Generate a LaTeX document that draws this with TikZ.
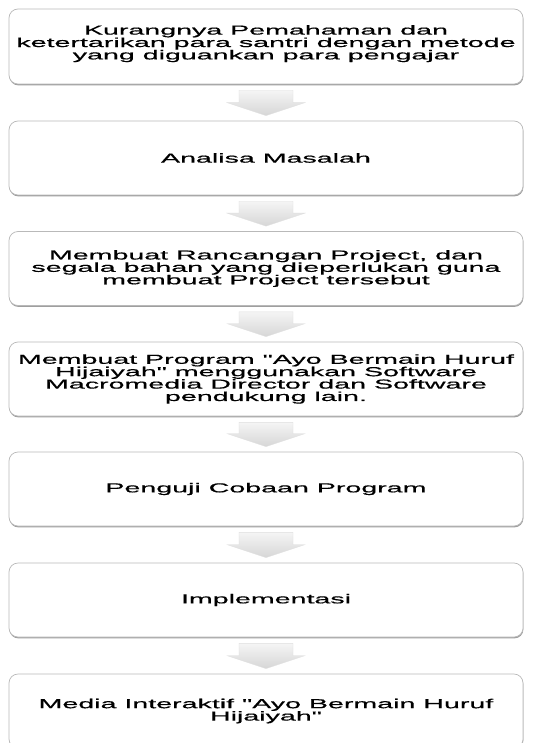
\documentclass[tikz,border=0pt]{standalone}
\usepackage{fontspec}
\setmainfont{Liberation Sans}
\newfontfamily\widefont[FakeStretch=2.2,FakeBold=0.6]{Liberation Sans}
\usetikzlibrary{calc,shadows}
\tikzset{
  flowbox/.style={rectangle, rounded corners=9pt, draw=gray!55, line width=0.7pt,
    fill=white, minimum width=514pt, minimum height=74pt, align=center,
    inner sep=0pt, text=black,
    font=\widefont\fontsize{13pt}{12.4pt}\selectfont,
    drop shadow={shadow xshift=0.4pt, shadow yshift=-1.4pt, fill=gray!75, opacity=1}},
  flowarrow/.style={top color=gray!8, bottom color=gray!32, draw=gray!25, line width=0.3pt}
}
\newcommand\flowdownarrow[2]{%
  \path let \p1=(#1.south), \p2=(#2.north) in
    [flowarrow] (\x1-27pt,\y1-6pt) -- (\x1+27pt,\y1-6pt) -- (\x1+27pt,\y2+18pt)
    -- (\x1+39pt,\y2+18pt) -- (\x1,\y2+5pt) -- (\x1-39pt,\y2+18pt)
    -- (\x1-27pt,\y2+18pt) -- cycle;}
\begin{document}
\begin{tikzpicture}[x=1pt,y=-1pt]
\useasboundingbox (0,0) rectangle (534,743);
\clip (0,0) rectangle (534,743);
\fill[white] (0,0) rectangle (534,743);
\node[flowbox, minimum height=75pt] (b1) at (266,46.5) {Kurangnya Pemahaman dan\\ketertarikan para santri dengan metode\\yang diguankan para pengajar\\[-4pt]};
\node[flowbox] (b2) at (266,158) {Analisa Masalah};
\node[flowbox] (b3) at (266,268.5) {Membuat Rancangan Project, dan\\segala bahan yang dieperlukan guna\\membuat Project tersebut};
\node[flowbox] (b4) at (266,379) {Membuat Program "Ayo Bermain Huruf\\Hijaiyah" menggunakan Software\\Macromedia Director dan Software\\pendukung lain.};
\node[flowbox] (b5) at (266,489) {Penguji Cobaan Program};
\node[flowbox] (b6) at (266,600) {Implementasi};
\node[flowbox] (b7) at (266,711) {Media Interaktif "Ayo Bermain Huruf\\Hijaiyah"};
\flowdownarrow{b1}{b2}
\flowdownarrow{b2}{b3}
\flowdownarrow{b3}{b4}
\flowdownarrow{b4}{b5}
\flowdownarrow{b5}{b6}
\flowdownarrow{b6}{b7}
\end{tikzpicture}
\end{document}
